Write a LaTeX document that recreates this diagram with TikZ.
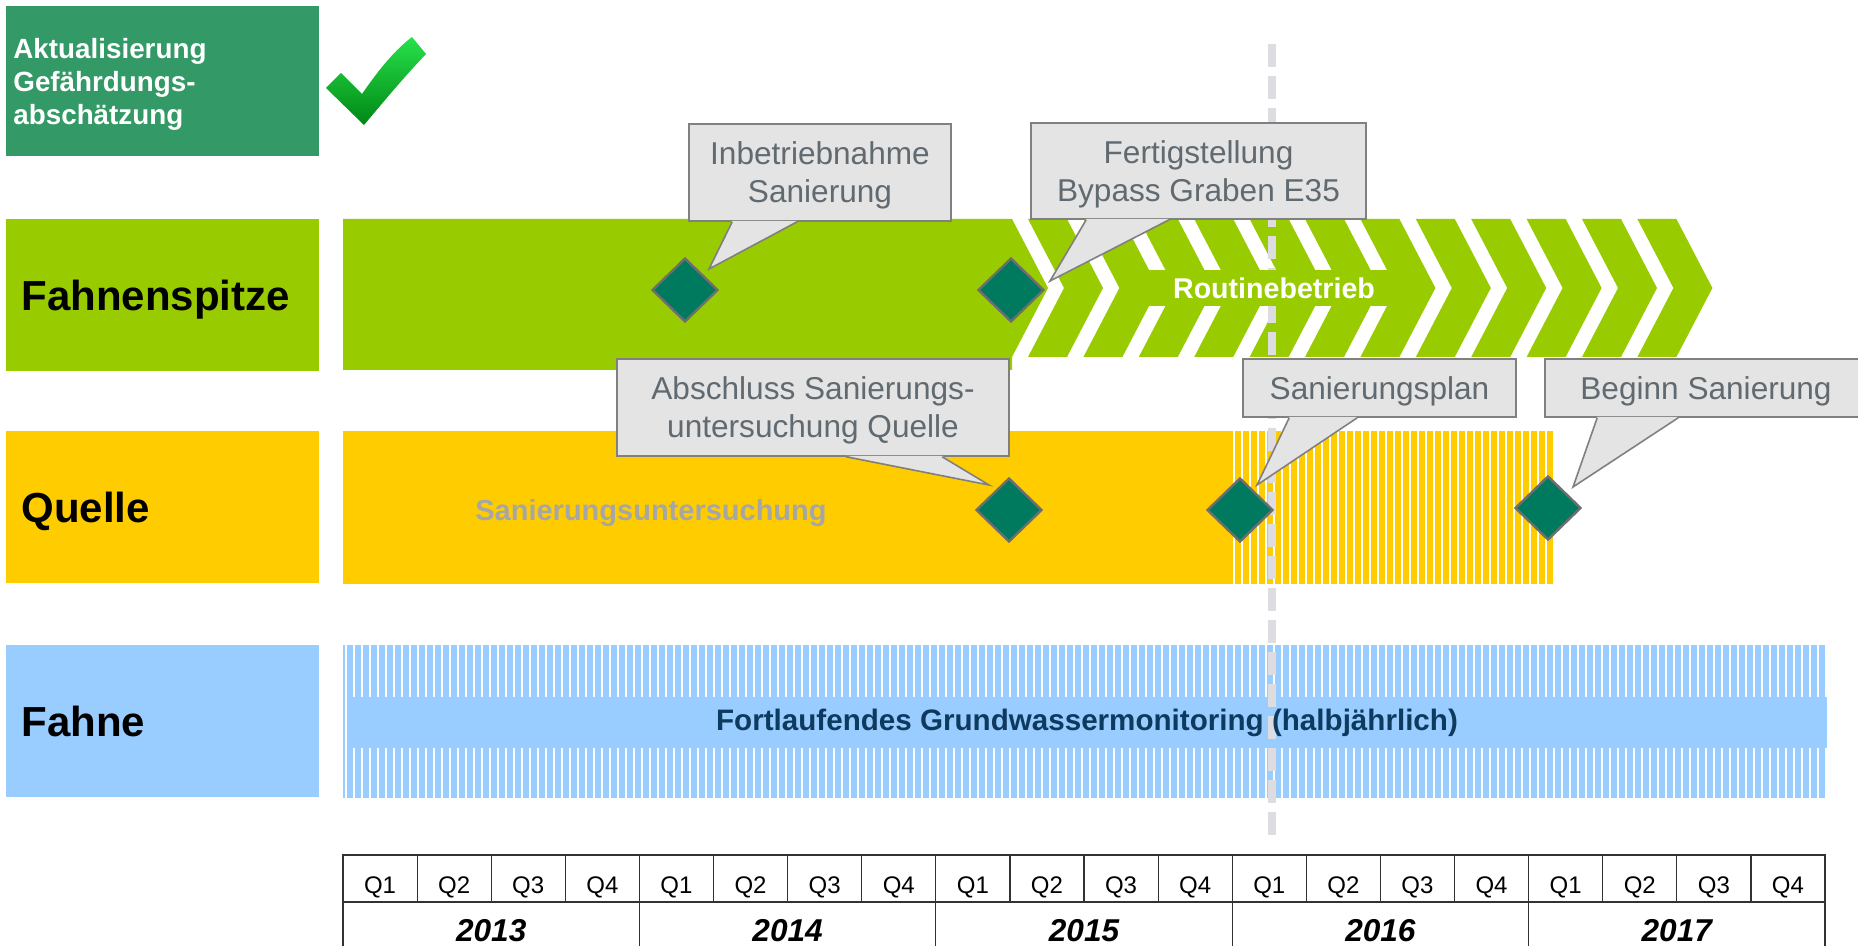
\documentclass[tikz,border=0pt]{standalone}
\usepackage{fontspec}
\setmainfont{Liberation Sans}
\usepackage{xcolor}
\usetikzlibrary{shapes.geometric}
\usetikzlibrary{calc}

\definecolor{boxgreen}{RGB}{51,153,102}
\definecolor{limegreen}{RGB}{153,204,0}
\definecolor{sunyellow}{RGB}{255,204,0}
\definecolor{skyblue}{RGB}{153,204,255}
\definecolor{gemgreen}{RGB}{0,122,94}
\definecolor{gemedge}{RGB}{110,110,110}
\definecolor{callfill}{RGB}{228,228,228}
\definecolor{calledge}{RGB}{128,128,128}
\definecolor{calltext}{RGB}{96,106,112}
\definecolor{dashgray}{RGB}{221,221,225}
\definecolor{navytext}{RGB}{14,58,96}
\definecolor{muted}{RGB}{166,166,166}
\definecolor{tickA}{RGB}{40,225,75}
\definecolor{tickB}{RGB}{0,135,20}
\definecolor{gridline}{RGB}{50,50,50}

\begin{document}
\begin{tikzpicture}[x=0.5pt,y=-0.5pt,
  rowlabel/.style={anchor=north west, fill=#1, minimum height=76pt, text width=141.5pt, inner xsep=7.5pt, inner ysep=0pt, text depth=0pt, align=left, font=\fontsize{21}{24}\selectfont\bfseries},
  callout/.style={draw=calledge, fill=callfill, line width=0.8pt, text=calltext, align=center, inner sep=0pt, text depth=0pt, font=\fontsize{15.8}{19}\selectfont},
  pointer/.style={draw=calledge, line width=0.8pt, line join=miter},
  gem/.style={diamond, draw=gemedge, fill=gemgreen, line width=1.2pt, minimum width=33pt, minimum height=32pt, inner sep=0pt},
  qcell/.style={draw=gridline, line width=0.6pt, minimum width=37.05pt, minimum height=23.5pt, inner sep=0pt, text height=14.5pt, text depth=0pt, font=\fontsize{12}{14}\selectfont},
  ycell/.style={draw=gridline, line width=0.6pt, minimum width=148.2pt, minimum height=30pt, inner sep=0pt, text height=9pt, text depth=0pt, font=\fontsize{15.8}{18}\selectfont\bfseries\itshape}]
\useasboundingbox (0,0) rectangle (1858,946);

%Shape: Top box
\node[anchor=north west, fill=boxgreen, minimum width=156.5pt, minimum height=75pt, inner sep=0pt] (gefabox) at (6,6) {};
% Text Node
\node[anchor=north west, text=white, inner sep=0pt, align=left, font=\fontsize{13.9}{16.5}\selectfont\bfseries] (gefa) at (13,38) {Aktualisierung\\Gefährdungs-\\abschätzung};
%Shape: Check mark
\shade[top color=tickA, bottom color=tickB] (326,88) -- (341,73) -- (362,94) .. controls (380,68) and (395,50) .. (412,37) -- (426,54) .. controls (405,76) and (385,100) .. (364,125) -- cycle;

% Row labels
\node[rowlabel=limegreen] (spitze) at (6,219) {Fahnenspitze};
\node[rowlabel=sunyellow] (quelle) at (6,431) {Quelle};
\node[rowlabel=skyblue] (fahne) at (6,645) {Fahne};

%Shape: Fahnenspitze bar
\fill[limegreen] (343,219) -- (1012,219) -- (1048,288) -- (1012,357) -- (1012,370) -- (343,370) -- cycle;
\foreach \k in {0,...,11}
  \fill[limegreen] ({1028+55.4*\k},219) -- ++(39,0) -- ++(36,69) -- ++(-36,69) -- ++(-39,0) -- ++(36,-69) -- cycle;
%Shape: Quelle bar
\fill[sunyellow] (343,431) rectangle (1233,584);
\foreach \k in {0,...,39}
  \fill[sunyellow] ({1235+8*\k},431) rectangle ++(6,153);
%Shape: Fahne bar
\fill[skyblue] (343,645) rectangle (345,798);
\foreach \k in {0,...,184}
  \fill[skyblue] ({347+8*\k},645) rectangle ++(6,153);
\fill[skyblue] (347,697) rectangle (1827,748);

%Straight Lines: today
\coordinate (dtop) at (1272,44);
\coordinate (dbot) at (1272,835);
\draw[dashgray, line width=4pt, dash pattern=on 11.5pt off 4.5pt] (dtop) -- (dbot);

%Shape: band behind text
\fill[limegreen] (1120,270) rectangle (1398,306);
% Text Node
\node[text=white, inner sep=0pt, font=\fontsize{14.3}{16}\selectfont\bfseries] (rout) at (1274,288) {Routinebetrieb};
% Text Node
\node[text=muted, text depth=0pt, font=\fontsize{14.5}{17}\selectfont\bfseries] (sanu) at (651,510) {Sanierungsuntersuchung};
% Text Node
\node[text=navytext, font=\fontsize{14.8}{17}\selectfont\bfseries] (gwm) at (1087,723) {Fortlaufendes Grundwassermonitoring (halbjährlich)};

%Shape: Milestones
\node[gem] (d1) at (685,290) {};
\node[gem] (d2) at (1011,290) {};
\node[gem] (d3) at (1009,510) {};
\node[gem] (d4) at (1240,510) {};
\node[gem] (d5) at (1548,508) {};
\coordinate (t1) at (709,269);
\coordinate (t2) at (1050,281);
\coordinate (t3) at (989,485);
\coordinate (t4) at (1257,485);
\coordinate (t5) at (1573,487);

%Shape: Callouts
\node[callout, minimum width=131pt, minimum height=48.5pt] (c1) at (820,172.5) {Inbetriebnahme\\Sanierung};
\fill[callfill] ($(c1.south west)+(44,-1)$) -- (t1) -- ($(c1.south west)+(109,-1)$) -- cycle;
\draw[pointer] ($(c1.south west)+(44,0)$) -- (t1) -- ($(c1.south west)+(109,0)$);

\node[callout, minimum width=167.5pt, minimum height=48pt] (c2) at (1198.5,171) {Fertigstellung\\Bypass Graben E35};
\fill[callfill] ($(c2.south west)+(56,-1)$) -- (t2) -- ($(c2.south west)+(139,-1)$) -- cycle;
\draw[pointer] ($(c2.south west)+(56,0)$) -- (t2) -- ($(c2.south west)+(139,0)$);

\node[callout, minimum width=196pt, minimum height=48.5pt] (c3) at (813,407.5) {Abschluss Sanierungs-\\untersuchung Quelle};
\fill[callfill] ($(c3.south west)+(230,-1)$) -- (t3) -- ($(c3.south west)+(326,-1)$) -- cycle;
\draw[pointer] ($(c3.south west)+(230,0)$) -- (t3) -- ($(c3.south west)+(326,0)$);

\node[callout, minimum width=136.5pt, minimum height=29pt] (c4) at (1379.5,388) {Sanierungsplan};
\fill[callfill] ($(c4.south west)+(47,-1)$) -- (t4) -- ($(c4.south west)+(115,-1)$) -- cycle;
\draw[pointer] ($(c4.south west)+(47,0)$) -- (t4) -- ($(c4.south west)+(115,0)$);

\node[callout, minimum width=161pt, minimum height=29pt] (c5) at (1706,388) {Beginn Sanierung};
\fill[callfill] ($(c5.south west)+(53,-1)$) -- (t5) -- ($(c5.south west)+(134,-1)$) -- cycle;
\draw[pointer] ($(c5.south west)+(53,0)$) -- (t5) -- ($(c5.south west)+(134,0)$);

%Shape: Timeline
\foreach \i in {0,...,19} {
  \pgfmathtruncatemacro\qn{mod(\i,4)+1}
  \node[qcell] (q\i) at ({380.05+74.1*\i},878.5) {Q\qn};
}
\foreach \yr [count=\j from 0] in {2013,...,2017}
  \node[ycell] (y\yr) at ({491.2+296.4*\j},932) {\yr};

\end{tikzpicture}
\end{document}
